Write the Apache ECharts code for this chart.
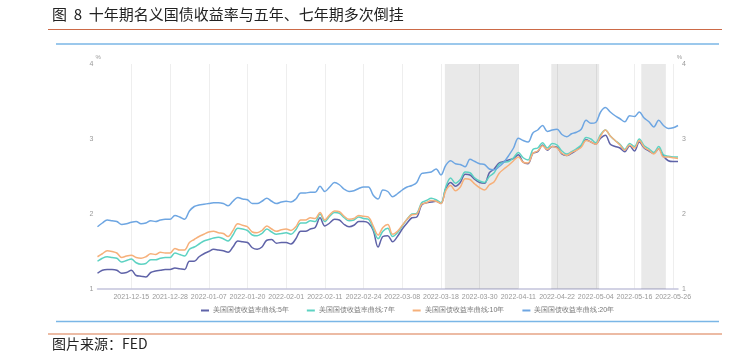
<!DOCTYPE html>
<html><head><meta charset="utf-8">
<script src="https://cdn.jsdelivr.net/npm/echarts@6/dist/echarts.min.js"></script>
<style>html,body{margin:0;padding:0;background:#fff}#c{width:737px;height:352px}</style>
</head><body><div id="c"></div>
<script>
var dates = ["2021-12-06","2021-12-07","2021-12-08","2021-12-09","2021-12-10","2021-12-13","2021-12-14","2021-12-15","2021-12-16","2021-12-17","2021-12-20","2021-12-21","2021-12-22","2021-12-23","2021-12-27","2021-12-28","2021-12-29","2021-12-30","2021-12-31","2022-01-03","2022-01-04","2022-01-05","2022-01-06","2022-01-07","2022-01-10","2022-01-11","2022-01-12","2022-01-13","2022-01-14","2022-01-18","2022-01-19","2022-01-20","2022-01-21","2022-01-24","2022-01-25","2022-01-26","2022-01-27","2022-01-28","2022-01-31","2022-02-01","2022-02-02","2022-02-03","2022-02-04","2022-02-07","2022-02-08","2022-02-09","2022-02-10","2022-02-11","2022-02-14","2022-02-15","2022-02-16","2022-02-17","2022-02-18","2022-02-22","2022-02-23","2022-02-24","2022-02-25","2022-02-28","2022-03-01","2022-03-02","2022-03-03","2022-03-04","2022-03-07","2022-03-08","2022-03-09","2022-03-10","2022-03-11","2022-03-14","2022-03-15","2022-03-16","2022-03-17","2022-03-18","2022-03-21","2022-03-22","2022-03-23","2022-03-24","2022-03-25","2022-03-28","2022-03-29","2022-03-30","2022-03-31","2022-04-01","2022-04-04","2022-04-05","2022-04-06","2022-04-07","2022-04-08","2022-04-11","2022-04-12","2022-04-13","2022-04-14","2022-04-18","2022-04-19","2022-04-20","2022-04-21","2022-04-22","2022-04-25","2022-04-26","2022-04-27","2022-04-28","2022-04-29","2022-05-02","2022-05-03","2022-05-04","2022-05-05","2022-05-06","2022-05-09","2022-05-10","2022-05-11","2022-05-12","2022-05-13","2022-05-16","2022-05-17","2022-05-18","2022-05-19","2022-05-20","2022-05-23","2022-05-24","2022-05-25","2022-05-26","2022-05-27"];

var y5 = [1.21,1.25,1.26,1.26,1.25,1.21,1.22,1.25,1.18,1.17,1.16,1.22,1.24,1.25,1.26,1.26,1.28,1.27,1.26,1.37,1.37,1.43,1.47,1.50,1.53,1.52,1.51,1.49,1.56,1.64,1.63,1.62,1.55,1.53,1.56,1.65,1.66,1.61,1.62,1.62,1.60,1.67,1.77,1.77,1.80,1.82,1.95,1.84,1.88,1.93,1.92,1.86,1.83,1.85,1.90,1.90,1.88,1.78,1.56,1.70,1.71,1.63,1.70,1.80,1.88,1.95,1.96,2.12,2.15,2.16,2.17,2.14,2.34,2.42,2.37,2.42,2.53,2.52,2.46,2.42,2.41,2.55,2.60,2.68,2.70,2.72,2.74,2.79,2.69,2.67,2.81,2.83,2.92,2.85,2.90,2.89,2.80,2.78,2.81,2.85,2.91,2.99,2.96,2.93,3.01,3.05,2.93,2.90,2.88,2.83,2.91,2.84,2.96,2.88,2.84,2.81,2.87,2.77,2.71,2.70,2.70];

var y7 = [1.37,1.41,1.43,1.42,1.41,1.36,1.38,1.40,1.35,1.33,1.34,1.39,1.39,1.41,1.42,1.42,1.48,1.46,1.44,1.53,1.56,1.60,1.64,1.66,1.68,1.69,1.67,1.64,1.72,1.81,1.80,1.78,1.72,1.71,1.74,1.80,1.76,1.73,1.74,1.75,1.73,1.79,1.88,1.88,1.91,1.90,2.00,1.90,1.97,2.02,2.01,1.95,1.91,1.92,1.96,1.94,1.93,1.80,1.67,1.77,1.81,1.70,1.75,1.84,1.93,2.00,2.01,2.15,2.18,2.21,2.19,2.15,2.36,2.48,2.41,2.46,2.56,2.55,2.48,2.44,2.42,2.50,2.55,2.66,2.69,2.70,2.75,2.82,2.75,2.72,2.86,2.88,2.95,2.88,2.94,2.92,2.84,2.80,2.83,2.87,2.92,3.02,3.00,2.95,3.06,3.12,3.04,2.98,2.93,2.86,2.94,2.90,3.00,2.91,2.87,2.82,2.90,2.79,2.77,2.76,2.76];

var y10 = [1.43,1.47,1.51,1.50,1.48,1.42,1.44,1.45,1.42,1.41,1.43,1.47,1.46,1.49,1.48,1.48,1.54,1.52,1.52,1.62,1.66,1.70,1.73,1.76,1.77,1.75,1.74,1.70,1.78,1.87,1.85,1.83,1.76,1.75,1.78,1.84,1.80,1.77,1.79,1.80,1.78,1.83,1.92,1.92,1.95,1.94,2.02,1.92,1.99,2.04,2.03,1.97,1.93,1.94,1.98,1.97,1.96,1.84,1.72,1.82,1.86,1.73,1.77,1.85,1.93,1.99,2.00,2.13,2.15,2.18,2.17,2.14,2.31,2.38,2.31,2.36,2.47,2.46,2.40,2.35,2.32,2.39,2.43,2.54,2.60,2.65,2.71,2.76,2.69,2.68,2.81,2.84,2.91,2.86,2.90,2.88,2.81,2.78,2.82,2.85,2.89,2.98,2.96,2.93,3.04,3.12,3.04,2.98,2.92,2.85,2.92,2.88,2.98,2.89,2.85,2.80,2.87,2.76,2.76,2.75,2.74];

var y20 = [1.83,1.88,1.92,1.91,1.90,1.86,1.87,1.89,1.90,1.87,1.88,1.91,1.90,1.92,1.93,1.93,1.98,1.96,1.93,2.04,2.10,2.12,2.13,2.14,2.15,2.15,2.14,2.11,2.17,2.22,2.20,2.19,2.14,2.14,2.17,2.21,2.17,2.14,2.16,2.17,2.16,2.20,2.28,2.28,2.29,2.29,2.37,2.30,2.36,2.42,2.39,2.33,2.30,2.31,2.34,2.36,2.36,2.25,2.20,2.32,2.30,2.23,2.27,2.32,2.36,2.38,2.42,2.54,2.55,2.56,2.60,2.52,2.65,2.71,2.67,2.66,2.63,2.73,2.70,2.67,2.66,2.60,2.59,2.63,2.69,2.78,2.88,3.01,2.98,2.96,3.08,3.12,3.18,3.10,3.12,3.13,3.06,3.03,3.07,3.09,3.13,3.25,3.21,3.22,3.36,3.42,3.36,3.31,3.27,3.23,3.31,3.30,3.36,3.28,3.23,3.16,3.25,3.18,3.14,3.15,3.18];

var seriesNames = ["美国国债收益率曲线:5年","美国国债收益率曲线:7年","美国国债收益率曲线:10年","美国国债收益率曲线:20年"];
var seriesColors = ["#5f63a8","#5dd2c2","#f6b07a","#6ea6e2"];
var shadeRanges = [[71.8, 87], [93.8, 103.7], [112.4, 117.5]];
var yTicks = [1, 4, 1];

var chart = echarts.init(document.getElementById('c'), null, {renderer: 'canvas'});
var lblInterval = function (idx) { return (idx - 7) % 8 === 0; };
var yAxisBase = function (pos) {
  return {
    type: 'value', position: pos, min: yTicks[0], max: yTicks[1], interval: yTicks[2],
    name: '%', nameGap: 4,
    nameTextStyle: {color: '#999', fontSize: 6, align: pos === 'left' ? 'left' : 'right', padding: pos === 'left' ? [0,0,0,-2] : [0,-4,0,0]},
    axisLine: {show: false}, axisTick: {show: false},
    axisLabel: {color: '#999', fontSize: 7, margin: 4},
    splitLine: {show: false}
  };
};
var lineSeries = [y5, y7, y10, y20].map(function (d, k) {
  return {
    name: seriesNames[k], type: 'line', data: d, smooth: 0.35, showSymbol: false,
    lineStyle: {width: 1.5, color: seriesColors[k]}, itemStyle: {color: seriesColors[k]},
    z: 3 + k
  };
});
lineSeries.push({
  name: 'shade', type: 'line', xAxisIndex: 1, yAxisIndex: 0, data: [], silent: true,
  markArea: {silent: true, itemStyle: {color: 'rgba(0,0,0,0.085)'},
    data: shadeRanges.map(function (r) { return [{xAxis: r[0]}, {xAxis: r[1]}]; })},
  z: 1
});

chart.setOption({
  animation: false,
  grid: {left: 97.5, right: 59, top: 64, bottom: 63},
  legend: {
    data: seriesNames, left: 196, top: 302, icon: 'rect', itemWidth: 8, itemHeight: 2, itemGap: 18,
    textStyle: {color: '#777', fontSize: 7, padding: [0,0,0,-1]}
  },
  xAxis: [{
    type: 'category', data: dates, boundaryGap: false,
    axisLine: {lineStyle: {color: '#c4c4dc', width: 1.5}},
    axisTick: {show: false, interval: lblInterval},
    axisLabel: {color: '#999', fontSize: 7, margin: 5, interval: lblInterval},
    splitLine: {show: true, interval: lblInterval, lineStyle: {color: '#eeeeee', width: 1}}
  }, {
    type: 'value', min: 0, max: dates.length - 1, show: false
  }],
  yAxis: [yAxisBase('left'), yAxisBase('right')],
  series: lineSeries,
  graphic: [
    {type: 'text', left: 52, top: 7, style: {text: '图  8  十年期名义国债收益率与五年、七年期多次倒挂', fontSize: 15, fill: '#222', fontFamily: 'Noto Sans CJK SC'}},
    {type: 'line', shape: {x1: 48, y1: 29.5, x2: 722, y2: 29.5}, style: {stroke: '#cc6a48', lineWidth: 1.2}},
    {type: 'line', shape: {x1: 56, y1: 44, x2: 719, y2: 44}, style: {stroke: '#7ab6e6', lineWidth: 1.5}},
    {type: 'line', shape: {x1: 56, y1: 321.5, x2: 719, y2: 321.5}, style: {stroke: '#7ab6e6', lineWidth: 1.5}},
    {type: 'line', shape: {x1: 48, y1: 334, x2: 722, y2: 334}, style: {stroke: '#e6a486', lineWidth: 1.5}},
    {type: 'text', left: 52, top: 337, style: {text: '图片来源：FED', fontSize: 14, fill: '#222', fontFamily: 'Noto Sans CJK SC'}}
  ]
});
</script>
</body></html>
